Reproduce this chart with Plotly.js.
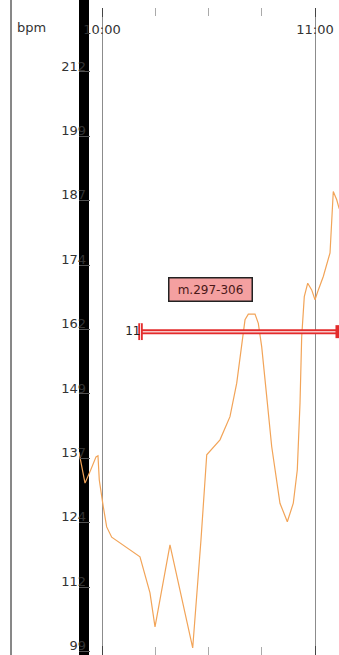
<!DOCTYPE html>
<html>
<head>
<meta charset="utf-8">
<script src="https://cdn.plot.ly/plotly-3.0.1.min.js"></script>
<style>
  html, body { margin: 0; padding: 0; background: #ffffff; }
  #chart { width: 339px; height: 655px; }
</style>
</head>
<body>
<div id="chart"></div>
<script>
// ---- data ----
const day = '2024-01-01 ';
const times = [
  '09:53:31','09:55:13','09:56:54','09:58:19','09:58:52','09:59:14','10:00:22','10:01:19',
  '10:02:44','10:10:42','10:13:31','10:14:56','10:19:09','10:25:33','10:27:53','10:29:30',
  '10:33:14','10:36:03','10:37:57','10:39:21','10:40:17','10:41:13','10:43:06','10:44:02',
  '10:44:59','10:46:24','10:47:48','10:50:08','10:52:12','10:53:53','10:55:01','10:55:47',
  '10:56:15','10:56:59','10:57:57','10:59:04','11:00:00','11:00:56','11:02:20','11:04:14',
  '11:04:42','11:05:09','11:06:07','11:06:46','11:07:36'
];
const bpm = [
  138.2, 132.2, 134.9, 137.3, 137.5, 132.8, 127.6, 123.7,
  121.7, 117.9, 110.9, 104.3, 120.2, 100.2, 121.2, 137.7,
  140.6, 145.1, 151.6, 159.4, 163.9, 165.0, 165.0, 163.2,
  158.7, 149.0, 139.3, 128.3, 124.7, 128.3, 134.8, 147.8,
  160.6, 168.4, 171.0, 169.7, 167.8, 169.7, 172.3, 176.9,
  183.3, 188.8, 187.2, 185.6, 184.4
];
// marker range (red band)
const bandTimes = ['10:10:51', '11:07:36'];
const bandBpm = [161.6, 161.6];
const bandStartLabel = ['11'];
const noteText = 'm.297-306';
const noteTime = '10:30:34';
const noteBpm = 169.7;
// y ticks
const yTickVals = [212, 199.5, 187, 174.5, 162, 149.5, 137, 124.5, 112, 99.5];
const yTickText = ['212','199','187','174','162','149','137','124','112','99'];
const xRange = ['09:53:31.3', '11:06:45.6'];
const yRange = [98.84, 224.42];

// ---- build ----
const X = times.map(t => day + t);
const bandX = bandTimes.map(t => day + t);
const FONT = 'DejaVu Sans, Verdana, sans-serif';
const RED = '#e32b2b';

const traces = [
  { x: X, y: bpm, type: 'scatter', mode: 'lines',
    line: { color: '#f2a458', width: 1.2 }, hoverinfo: 'skip' },
  { x: bandX, y: bandBpm, type: 'scatter', mode: 'lines',
    line: { color: RED, width: 5 }, hoverinfo: 'skip' },
  { x: bandX, y: bandBpm, type: 'scatter', mode: 'lines',
    line: { color: '#f7c6c6', width: 1.5 }, hoverinfo: 'skip' },
  { x: [bandX[0]], y: [bandBpm[0]], type: 'scatter', mode: 'markers',
    marker: { symbol: 'line-ns', size: 12, line: { color: RED, width: 4.5 } }, hoverinfo: 'skip' },
  { x: [bandX[0]], y: [bandBpm[0]], type: 'scatter', mode: 'markers',
    marker: { symbol: 'line-ns', size: 12, line: { color: '#fbe2e2', width: 1 } }, hoverinfo: 'skip' },
  { x: [bandX[0]], y: [bandBpm[0]], type: 'scatter', mode: 'text',
    text: bandStartLabel, textposition: 'middle left',
    textfont: { family: FONT, size: 12, color: '#222' }, hoverinfo: 'skip' },
  { x: [bandX[1]], y: [bandBpm[1]], type: 'scatter', mode: 'markers',
    marker: { symbol: 'square', size: 13, color: RED }, hoverinfo: 'skip' }
];

const PW = 339 - 79, PH = 655 - 8;
const layout = {
  width: 339, height: 655,
  margin: { l: 79, r: 0, t: 8, b: 0 },
  paper_bgcolor: '#ffffff', plot_bgcolor: '#ffffff',
  showlegend: false,
  font: { family: FONT, size: 13, color: '#333' },
  xaxis: {
    type: 'date', range: xRange.map(t => day + t),
    side: 'top', tickformat: '%H:%M', dtick: 3600000, tick0: day + '00:00:00',
    ticks: 'inside', ticklen: 9, tickcolor: '#444', tickwidth: 1,
    mirror: 'ticks', showline: false, zeroline: false,
    showgrid: true, gridcolor: '#8c8c8c', gridwidth: 1,
    ticklabelposition: 'inside', ticklabelstandoff: 8,
    tickfont: { family: FONT, size: 13, color: '#333' },
    minor: { dtick: 900000, ticks: 'inside', ticklen: 8, tickcolor: '#aaaaaa', showgrid: false }
  },
  yaxis: {
    range: yRange, tickmode: 'array', tickvals: yTickVals, ticktext: yTickText,
    ticks: 'inside', ticklen: 11, tickcolor: '#555', tickwidth: 1,
    showgrid: false, zeroline: false, showline: false,
    ticklabelshift: -6, ticklabelstandoff: -8,
    tickfont: { family: FONT, size: 13, color: '#333' }
  },
  shapes: [
    { type: 'rect', xref: 'paper', yref: 'paper', x0: 0, x1: 10 / PW, y0: 0, y1: 655 / PH,
      fillcolor: '#000000', line: { width: 0 }, layer: 'below' },
    { type: 'line', xref: 'paper', yref: 'paper', x0: -68 / PW, x1: -68 / PW, y0: 0, y1: 655 / PH,
      line: { color: '#111111', width: 1 }, layer: 'above' }
  ],
  annotations: [
    { text: 'bpm', xref: 'paper', yref: 'paper', x: (15 - 79) / PW, y: (655 - 27) / PH,
      xanchor: 'left', yanchor: 'middle', showarrow: false,
      font: { family: FONT, size: 13, color: '#333' } },
    { text: noteText, xref: 'x', yref: 'y', x: day + noteTime, y: noteBpm,
      showarrow: false, bgcolor: '#f4a0a0', bordercolor: '#222', borderwidth: 1.5, borderpad: 2,
      width: 78, height: 18,
      font: { family: FONT, size: 12, color: '#4a1818' } }
  ]
};

Plotly.newPlot('chart', traces, layout, { staticPlot: true, displayModeBar: false });
</script>
</body>
</html>
